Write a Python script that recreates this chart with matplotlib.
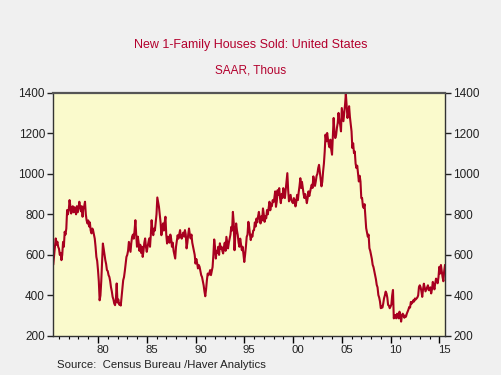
import numpy as np
from matplotlib import pyplot as plt
from matplotlib.ticker import MultipleLocator, NullFormatter

# New 1-family houses sold, SAAR thousands, monthly Jun 1975 .. Aug 2015
start_year = 1975
start_month = 6
sales = {
    1975: [555, 600, 640, 681, 650, 665, 640],
    1976: [630, 600, 610, 574, 600, 664, 640, 714, 700, 730, 821, 800],
    1977: [820, 870, 840, 804, 830, 840, 810, 835, 820, 800, 840, 810],
    1978: [830, 862, 840, 815, 840, 788, 830, 840, 862, 800, 770, 755],
    1979: [770, 740, 760, 720, 706, 730, 720, 700, 680, 640, 590, 570],
    1980: [525, 470, 376, 400, 470, 560, 656, 630, 600, 574, 555, 525],
    1981: [520, 500, 491, 470, 440, 420, 393, 380, 360, 352, 380, 459],
    1982: [365, 380, 355, 360, 350, 390, 430, 475, 490, 520, 557, 590],
    1983: [600, 620, 664, 640, 615, 660, 690, 700, 680, 720, 771, 700],
    1984: [640, 690, 660, 620, 650, 610, 640, 590, 620, 660, 681, 640],
    1985: [615, 640, 660, 681, 640, 700, 771, 720, 697, 730, 720, 760],
    1986: [800, 883, 860, 837, 800, 760, 697, 730, 755, 720, 760, 788],
    1987: [700, 656, 690, 673, 660, 700, 680, 640, 660, 620, 600, 582],
    1988: [640, 670, 697, 680, 700, 722, 690, 680, 697, 710, 690, 722],
    1989: [700, 632, 660, 700, 730, 700, 681, 700, 660, 640, 620, 600],
    1990: [557, 580, 560, 533, 550, 541, 520, 500, 491, 470, 450, 420],
    1991: [396, 430, 475, 508, 500, 510, 525, 500, 520, 540, 600, 676],
    1992: [640, 582, 620, 610, 640, 600, 657, 630, 640, 620, 607, 640],
    1993: [660, 620, 689, 660, 632, 660, 680, 700, 738, 720, 812, 760],
    1994: [623, 700, 755, 720, 698, 660, 640, 680, 650, 623, 640, 600],
    1995: [565, 600, 640, 689, 700, 763, 740, 700, 673, 700, 690, 720],
    1996: [722, 760, 740, 779, 760, 790, 812, 780, 755, 790, 770, 829],
    1997: [800, 763, 790, 780, 821, 800, 830, 862, 820, 850, 840, 870],
    1998: [860, 880, 913, 837, 864, 919, 895, 929, 880, 855, 900, 880],
    1999: [929, 900, 880, 920, 960, 1003, 920, 864, 880, 896, 870, 860],
    2000: [855, 880, 870, 839, 860, 896, 870, 910, 940, 978, 930, 960],
    2001: [929, 900, 880, 900, 880, 855, 880, 913, 890, 910, 930, 946],
    2002: [930, 987, 960, 940, 962, 990, 1000, 1028, 1044, 1010, 980, 938],
    2003: [960, 1011, 1050, 1110, 1193, 1160, 1201, 1170, 1144, 1130, 1168, 1120],
    2004: [1094, 1180, 1275, 1200, 1176, 1190, 1226, 1250, 1300, 1260, 1242, 1209],
    2005: [1324, 1290, 1259, 1300, 1340, 1394, 1333, 1275, 1300, 1333, 1280, 1242],
    2006: [1209, 1127, 1150, 1102, 1110, 1050, 1028, 1040, 1003, 962, 990, 962],
    2007: [880, 880, 840, 831, 850, 790, 732, 712, 690, 700, 633, 620],
    2008: [600, 580, 551, 540, 520, 501, 480, 452, 440, 402, 390, 370],
    2009: [337, 345, 340, 360, 386, 400, 419, 410, 390, 353, 350, 337],
    2010: [345, 355, 400, 427, 287, 300, 303, 287, 310, 300, 287, 320],
    2011: [303, 271, 300, 310, 303, 290, 300, 295, 310, 320, 330, 343],
    2012: [340, 368, 360, 365, 376, 370, 385, 380, 385, 390, 400, 442],
    2013: [450, 440, 420, 393, 430, 458, 440, 420, 430, 440, 450, 426],
    2014: [426, 440, 410, 430, 467, 450, 430, 460, 483, 470, 460, 490],
    2015: [541, 508, 550, 520, 491, 470, 520, 549],
}
year_labels = ['80', '85', '90', '95', '00', '05', '10', '15']
label_years = [1980, 1985, 1990, 1995, 2000, 2005, 2010, 2015]

values = np.array([v for yr in sorted(sales) for v in sales[yr]], dtype=float)
dates = start_year + (start_month - 1) / 12 + np.arange(len(values)) / 12

BG = '#f0f0f0'
RED = '#b3002d'

fig = plt.figure(figsize=(5.01, 3.75), dpi=100, facecolor=BG)
plt.rcParams['font.family'] = ['Liberation Sans', 'DejaVu Sans']
ax = fig.add_axes([0.1064, 0.104, 0.7818, 0.649])
ax.set_facecolor('#fafacc')

ax.plot(dates, values, color='#a8001f', lw=1.5)

ax.set_xlim(dates[0], dates[-1])
ax.set_ylim(200, 1400)
ax.yaxis.set_major_locator(MultipleLocator(200))
ax.xaxis.set_major_locator(MultipleLocator(5))
ax.xaxis.set_minor_locator(MultipleLocator(1))
ax.xaxis.set_major_formatter(NullFormatter())

ax.tick_params(axis='y', direction='out', length=4, width=1, labelsize=8.5,
               right=True, labelright=True, pad=2, colors='#222222')
ax.tick_params(axis='x', which='major', direction='out', length=5, width=1)
ax.tick_params(axis='x', which='minor', direction='out', length=2.5, width=0.8)

# year labels sit in the middle of each year, Haver style
for yr, lab in zip(label_years, year_labels):
    ax.text(yr + 0.5, -0.037, lab, transform=ax.get_xaxis_transform(),
            ha='center', va='top', fontsize=8.2, color='#222222')

for side in ['left', 'right', 'bottom']:
    ax.spines[side].set_color('#333333')
    ax.spines[side].set_linewidth(1)
ax.spines['top'].set_color('#555555')
ax.spines['top'].set_linewidth(1.6)

fig.text(0.5, 0.88, 'New 1-Family Houses Sold: United States', ha='center',
         va='center', fontsize=9, color=RED)
fig.text(0.5, 0.813, 'SAAR, Thous', ha='center', va='center', fontsize=8.5,
         color=RED)
fig.text(0.114, 0.027, 'Source:  Census Bureau /Haver Analytics', ha='left',
         va='center', fontsize=8.2, color='#222222')

plt.savefig('out.png', dpi=100, facecolor=BG)
